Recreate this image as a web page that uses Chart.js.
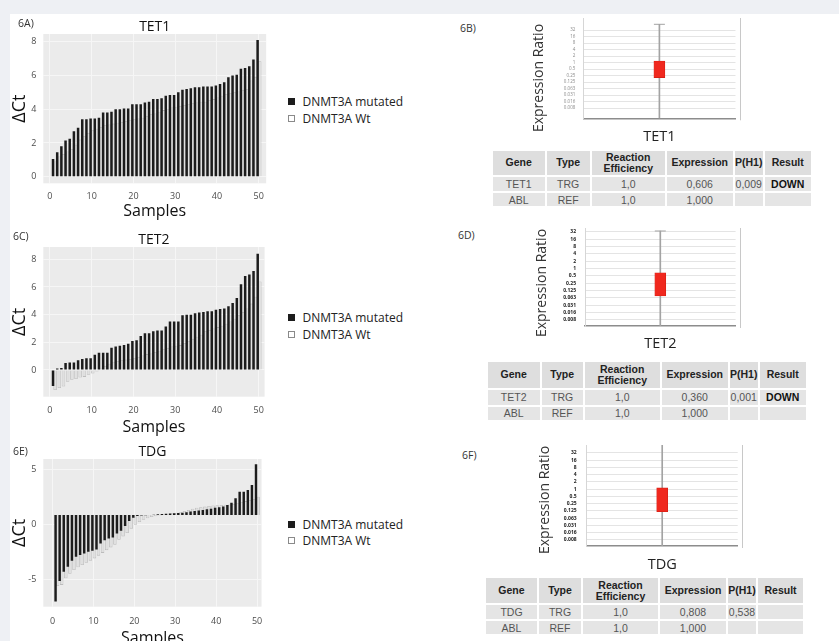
<!DOCTYPE html>
<html>
<head>
<meta charset="utf-8">
<script src="https://cdn.jsdelivr.net/npm/chart.js@4.4.1/dist/chart.umd.min.js"></script>
<style>
html, body { margin: 0; padding: 0; }
body { width: 839px; height: 641px; overflow: hidden; background: #eef0f4; position: relative; font-family: "Open Sans", sans-serif; }
#sheet { position: absolute; left: 10px; top: 14px; right: 0; bottom: 0; background: #fff; }
canvas { position: absolute; }
.lbl { position: absolute; font-size: 10.5px; line-height: 1; color: #333; z-index: 2; }
.leg { position: absolute; font-size: 12px; line-height: 12px; height: 12px; color: #222; white-space: nowrap; z-index: 2; }
.leg span { display: inline-block; box-sizing: border-box; width: 7px; height: 7px; margin-right: 7.5px; vertical-align: 1px; border: 1px solid; }
.ytitle { position: absolute; width: 120px; height: 18px; line-height: 18px; font-size: 14px; color: #333; text-align: center; white-space: nowrap; transform: rotate(-90deg); z-index: 2; }
table { position: absolute; table-layout: fixed; border-collapse: separate; border-spacing: 2px; font-family: "Liberation Sans", Arial, sans-serif; font-size: 10.5px; color: #555; }
th { background: #dedede; color: #222; font-weight: bold; line-height: 11px; padding: 0; text-align: center; }
td { background: #e5e5e5; line-height: 12px; padding: 0; text-align: center; }
td:last-child { font-weight: bold; color: #111; }
</style>
</head>
<body>
<div id="sheet"></div>

<div class="lbl" style="left:18px;top:18px">6A)</div>
<div class="lbl" style="left:13px;top:231px">6C)</div>
<div class="lbl" style="left:13px;top:446px">6E)</div>
<div class="lbl" style="left:460px;top:23px">6B)</div>
<div class="lbl" style="left:458px;top:230px">6D)</div>
<div class="lbl" style="left:462px;top:450px">6F)</div>

<canvas id="tet1" width="262" height="201" style="left:10px;top:20px"></canvas>
<canvas id="tet2" width="262" height="204" style="left:10px;top:233px"></canvas>
<canvas id="tdg" width="262" height="203" style="left:10px;top:445px"></canvas>
<div id="leg1"></div>
<div id="leg2"></div>
<div id="leg3"></div>

<canvas id="ratio1" width="217" height="134" style="left:525px;top:14px"></canvas>
<canvas id="ratio2" width="217" height="132" style="left:525px;top:224px"></canvas>
<canvas id="ratio3" width="219" height="135" style="left:525px;top:441px"></canvas>
<div class="ytitle" style="left:478px;top:69px">Expression Ratio</div>
<div class="ytitle" style="left:481px;top:273.5px">Expression Ratio</div>
<div class="ytitle" style="left:484px;top:491px">Expression Ratio</div>

<table id="tab1" style="left:490.7px;top:148.7px"></table>
<table id="tab2" style="left:485.7px;top:359.7px"></table>
<table id="tab3" style="left:484px;top:576.3px"></table>

<script>
// delta Ct per sample, sorted
const samples = [1, 2, 3, 4, 5, 6, 7, 8, 9, 10, 11, 12, 13, 14, 15, 16, 17, 18, 19, 20,
  21, 22, 23, 24, 25, 26, 27, 28, 29, 30, 31, 32, 33, 34, 35, 36, 37, 38, 39, 40,
  41, 42, 43, 44, 45, 46, 47, 48, 49, 50];
const seriesNames = ['DNMT3A mutated', 'DNMT3A Wt'];

const tet1Mutated = [1.05, 1.45, 1.8, 2.15, 2.25, 2.7, 2.9, 3.4, 3.4, 3.45,
  3.45, 3.5, 3.8, 3.8, 3.85, 4.0, 4.0, 4.05, 4.05, 4.3,
  4.3, 4.3, 4.4, 4.45, 4.6, 4.6, 4.65, 4.8, 4.85, 4.85,
  5.0, 5.15, 5.2, 5.25, 5.3, 5.3, 5.35, 5.35, 5.35, 5.4,
  5.5, 5.6, 5.9, 6.0, 6.05, 6.4, 6.45, 6.55, 6.95, 8.1];
const tet1Wt = [0.9, 1.2, 1.35, 1.5, 1.65, 1.9, 2.2, 2.4, 2.6, 2.75,
  2.85, 2.95, 3.05, 3.1, 3.15, 3.2, 3.25, 3.3, 3.35, 3.4,
  3.45, 3.5, 3.6, 3.7, 3.75, 3.85, 3.95, 4.0, 4.1, 4.15,
  4.2, 4.25, 4.3, 4.35, 4.4, 4.45, 4.45, 4.55, 4.6, 4.7,
  4.8, 4.9, 4.95, 5.0, 5.05, 5.15, 5.2, 5.7, 5.9, 6.85];

const tet2Mutated = [-1.15, 0.1, 0.15, 0.5, 0.55, 0.55, 0.7, 0.8, 0.85, 0.85,
  1.1, 1.25, 1.25, 1.25, 1.6, 1.7, 1.75, 1.8, 1.9, 2.1,
  2.15, 2.45, 2.65, 2.65, 2.8, 2.85, 2.85, 3.15, 3.5, 3.5,
  3.5, 3.95, 4.0, 4.0, 4.1, 4.15, 4.2, 4.25, 4.25, 4.35,
  4.4, 4.45, 4.6, 4.85, 5.2, 6.2, 6.8, 6.9, 7.15, 8.4];
const tet2Wt = [-1.45, -1.3, -1.2, -0.85, -0.7, -0.65, -0.55, -0.5, -0.35, -0.25,
  -0.1, 0.1, 0.3, 0.45, 0.6, 0.65, 0.7, 0.75, 0.8, 0.85,
  0.95, 1.05, 1.15, 1.2, 1.3, 1.4, 1.5, 1.6, 1.7, 1.75,
  1.8, 1.95, 2.1, 2.25, 2.4, 2.55, 2.8, 2.9, 3.0, 3.1,
  3.2, 3.35, 3.5, 3.7, 3.95, 4.2, 4.45, 4.8, 5.3, 6.4];

// TDG bars hang from a baseline drawn a little above the 0 tick in the figure
const tdgBaseline = 0.85;
const tdgMutated = [-7.0, -5.15, -4.3, -3.85, -3.3, -2.95, -2.8, -2.65, -2.5, -2.4,
  -2.3, -1.75, -1.45, -1.3, -1.2, -0.85, -0.6, -0.15, 0.3, 0.6,
  0.75, 0.8, 0.82, 0.85, 0.87, 0.9, 0.92, 0.95, 0.98, 1.0,
  1.02, 1.05, 1.1, 1.15, 1.2, 1.25, 1.3, 1.35, 1.4, 1.5,
  1.55, 1.6, 1.75, 1.95, 2.35, 2.95, 2.95, 3.1, 3.55, 5.45];
const tdgWt = [-5.6, -5.5, -4.9, -4.5, -4.15, -3.9, -3.7, -3.5, -3.3, -3.1,
  -2.85, -2.6, -2.35, -2.1, -1.85, -1.4, -1.1, -0.8, -0.4, -0.05,
  0.2, 0.4, 0.55, 0.65, 0.72, 0.8, 0.88, 0.95, 1.0, 1.05,
  1.1, 1.2, 1.3, 1.4, 1.5, 1.55, 1.6, 1.65, 1.7, 1.72,
  1.75, 1.78, 1.8, 1.85, 1.9, 2.0, 2.1, 2.2, 2.3, 2.5];

const sampleTicks = [0, 10, 20, 30, 40, 50];
const tetTicks = [0, 2, 4, 6, 8];
const tdgTicks = [-5, 0, 5];

// expression ratio box plots (log2 axis)
const ratioTicks = [32, 16, 8, 4, 2, 1, 0.5, 0.25, 0.125, 0.0625, 0.03125, 0.015625, 0.0078125];
const ratioTickLabels = ['32', '16', '8', '4', '2', '1', '0.5', '0.25', '0.125', '0.063', '0.031', '0.016', '0.008'];
const tet1Box = [0.2, 1.17];
const tet1Whisker = [0.001, 58.8];
const tet2Box = [0.076, 0.68];
const tet2Whisker = [0.001, 35.2];
const tdgBox = [0.117, 1.13];
const tdgWhisker = [0.0001, 1000];

// REST tables
const tableHead = ['Gene', 'Type', 'Reaction Efficiency', 'Expression', 'P(H1)', 'Result'];
const tet1Rows = [['TET1', 'TRG', '1,0', '0,606', '0,009', 'DOWN'], ['ABL', 'REF', '1,0', '1,000', '', '']];
const tet2Rows = [['TET2', 'TRG', '1,0', '0,360', '0,001', 'DOWN'], ['ABL', 'REF', '1,0', '1,000', '', '']];
const tdgRows = [['TDG', 'TRG', '1,0', '0,808', '0,538', ''], ['ABL', 'REF', '1,0', '1,000', '', '']];

const mutatedColor = '#1c1c1c';
const wtFill = '#e0e0e0';
const wtEdge = '#bcbcbc';

Chart.defaults.font.family = "'Open Sans', sans-serif";
Chart.defaults.color = '#444';

const panelBg = {
  id: 'panelBg',
  beforeDraw(chart, args, opts) {
    const { ctx, chartArea: a } = chart;
    ctx.save();
    ctx.fillStyle = opts.color;
    ctx.fillRect(a.left, a.top, a.right - a.left, a.bottom - a.top);
    if (opts.edge) {
      const x = Math.round(a.right + opts.edgeGap) + 0.5;
      ctx.strokeStyle = opts.edge;
      ctx.lineWidth = 1;
      ctx.beginPath();
      ctx.moveTo(x, a.top);
      ctx.lineTo(x, a.bottom + 2);
      ctx.stroke();
    }
    ctx.restore();
  }
};

function barPanel(id, cfg) {
  new Chart(document.getElementById(id), {
    type: 'bar',
    data: {
      datasets: [
        {
          label: seriesNames[0],
          data: samples.map((s, i) => ({ x: s, y: cfg.mutated[i] })),
          backgroundColor: mutatedColor,
          barPercentage: 1.2,
          categoryPercentage: 1,
          base: cfg.base,
          order: 0
        },
        {
          label: seriesNames[1],
          data: samples.map((s, i) => ({ x: s, y: cfg.wt[i] })),
          backgroundColor: wtFill,
          borderColor: wtEdge,
          borderWidth: 0.8,
          barPercentage: 1.7,
          categoryPercentage: 1,
          base: cfg.base,
          order: 1
        }
      ]
    },
    options: {
      responsive: false,
      animation: false,
      layout: { padding: { right: 2.5 }, autoPadding: false },
      plugins: {
        panelBg: { color: '#ebebeb' },
        tooltip: { enabled: false },
        legend: { display: false },
        title: {
          display: true, text: cfg.title, fullSize: false, color: '#111',
          font: { size: 14, lineHeight: 1, weight: 'normal' }, padding: 0
        }
      },
      scales: {
        x: {
          type: 'linear', min: cfg.xMin, max: cfg.xMax, offset: false,
          afterBuildTicks: a => { a.ticks = sampleTicks.map(v => ({ value: v })); },
          grid: { color: '#f6f6f6', drawTicks: false, offset: false },
          border: { display: false },
          ticks: { font: { size: 9 }, color: '#4d4d4d', padding: cfg.xPad },
          title: { display: true, text: 'Samples', color: '#111', font: { size: 16, lineHeight: 1.2 }, padding: 0 },
          afterFit: s => { s.height = cfg.xH; }
        },
        y: {
          min: cfg.yMin, max: cfg.yMax,
          afterBuildTicks: a => { a.ticks = cfg.yTicks.map(v => ({ value: v })); },
          grid: { color: '#f6f6f6', drawTicks: false },
          border: { display: false },
          ticks: { font: { size: 9 }, color: '#4d4d4d', padding: 7 },
          title: { display: true, text: 'ΔCt', color: '#111', font: { size: 18, lineHeight: 1 }, padding: { top: 1, bottom: 0 } },
          afterFit: s => { s.width = 33.3; }
        }
      }
    },
    plugins: [panelBg]
  });
}

function legendBlock(id, left, tops) {
  const swatches = [[mutatedColor, mutatedColor], ['#fff', '#8a8a8a']];
  document.getElementById(id).innerHTML = seriesNames.map((name, i) =>
    '<div class="leg" style="left:' + left + 'px;top:' + tops[i] + 'px"><span style="background:' +
    swatches[i][0] + ';border-color:' + swatches[i][1] + '"></span>' + name + '</div>').join('');
}

function ratioPanel(id, cfg) {
  const datasets = [
    {
      type: 'bar', data: [cfg.box], backgroundColor: '#f0281e', borderColor: '#cf1d12',
      borderWidth: 0.6, borderSkipped: false, barThickness: 11, grouped: false, order: 0
    },
    {
      type: 'bar', data: [cfg.whisker], backgroundColor: '#a3a3a3',
      barThickness: 1, grouped: false, order: 2
    }
  ];
  if (cfg.cap) {
    datasets.push({
      type: 'line', data: [cfg.whisker[1]], showLine: false, pointStyle: 'line',
      pointRadius: 5.5, borderColor: '#a3a3a3', pointBorderWidth: 1, order: 1
    });
  }
  new Chart(document.getElementById(id), {
    type: 'bar',
    data: { labels: [cfg.gene], datasets },
    options: {
      responsive: false,
      animation: false,
      layout: { padding: { top: 4, right: cfg.padR, left: 0, bottom: 0 }, autoPadding: false },
      plugins: {
        panelBg: { color: '#fff', edge: '#c8c8c8', edgeGap: 4.5 },
        legend: { display: false },
        tooltip: { enabled: false }
      },
      scales: {
        x: {
          grid: { display: false, drawTicks: false },
          border: { color: '#8c8c8c', width: 1.5 },
          ticks: { font: { size: 14.5 }, color: '#222', padding: cfg.xPad },
          afterFit: s => { s.height = cfg.xH; }
        },
        y: {
          type: 'logarithmic', min: cfg.min, max: cfg.max,
          afterBuildTicks: a => { a.ticks = ratioTicks.slice().reverse().map(v => ({ value: v })); },
          ticks: {
            autoSkip: false, font: { size: cfg.tickSize, weight: cfg.tickWeight }, color: cfg.tickColor, padding: 0,
            callback: v => ratioTickLabels[ratioTicks.indexOf(v)]
          },
          // invisible tick marks push the labels away from the axis without adding top padding
          grid: { color: '#e4e4e4', drawTicks: true, tickLength: cfg.yPad, tickColor: 'rgba(0,0,0,0)' },
          border: { color: '#d6d6d6' },
          afterFit: s => { s.width = cfg.yW; }
        }
      }
    },
    plugins: [panelBg]
  });
}

function buildTable(id, rows, colW, rowH) {
  let html = '<tr style="height:' + rowH[0] + 'px">' +
    tableHead.map((h, i) => '<th style="width:' + colW[i] + 'px">' + h.replace(' ', '<br>') + '</th>').join('') + '</tr>';
  rows.forEach((r, j) => {
    html += '<tr style="height:' + rowH[j + 1] + 'px">' + r.map(c => '<td>' + c + '</td>').join('') + '</tr>';
  });
  document.getElementById(id).innerHTML = html;
}

barPanel('tet1', {
  title: 'TET1', mutated: tet1Mutated, wt: tet1Wt, base: 0,
  yMin: -0.39, yMax: 8.46, yTicks: tetTicks, xMin: -1.58, xMax: 51.8, xPad: 8, xH: 37.7
});
barPanel('tet2', {
  title: 'TET2', mutated: tet2Mutated, wt: tet2Wt, base: 0,
  yMin: -1.93, yMax: 8.89, yTicks: tetTicks, xMin: -1.58, xMax: 51.4, xPad: 7.9, xH: 40.3
});
barPanel('tdg', {
  title: 'TDG', mutated: tdgMutated, wt: tdgWt, base: tdgBaseline,
  yMin: -7.48, yMax: 5.92, yTicks: tdgTicks, xMin: -2.25, xMax: 51.1, xPad: 9.6, xH: 41.3
});
legendBlock('leg1', 288, [95.7, 113.3]);
legendBlock('leg2', 288, [312, 328.5]);
legendBlock('leg3', 288, [519, 535]);

ratioPanel('ratio1', {
  gene: 'TET1', box: tet1Box, whisker: tet1Whisker, cap: true,
  min: 0.00261, max: 115.1, yW: 58.3, padR: 6.5, xH: 29.7, xPad: 9.7,
  yPad: 8, tickSize: 4.5, tickWeight: 'normal', tickColor: '#8a8a8a'
});
ratioPanel('ratio2', {
  gene: 'TET2', box: tet2Box, whisker: tet2Whisker, cap: true,
  min: 0.00442, max: 46.7, yW: 60, padR: 6.4, xH: 30, xPad: 9.3,
  yPad: 9, tickSize: 5, tickWeight: 'bold', tickColor: '#222'
});
ratioPanel('ratio3', {
  gene: 'TDG', box: tdgBox, whisker: tdgWhisker, cap: false,
  min: 0.00439, max: 68.7, yW: 61.7, padR: 6.3, xH: 30, xPad: 10.3,
  yPad: 10, tickSize: 5, tickWeight: 'bold', tickColor: '#222'
});

buildTable('tab1', tet1Rows, [52, 43, 73, 66, 28, 46], [24, 14.5, 13]);
buildTable('tab2', tet2Rows, [52, 41, 75, 66, 28, 46], [26, 15, 13]);
buildTable('tab3', tdgRows, [51, 42, 75, 66, 28, 45], [25, 14, 13]);
</script>
</body>
</html>
